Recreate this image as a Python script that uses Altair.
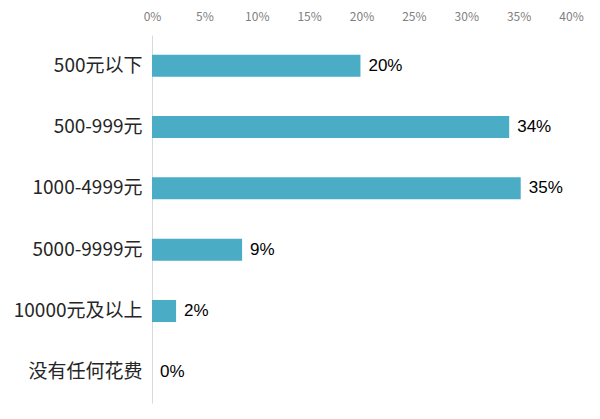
import altair as alt
import pandas as pd

categories = ["500元以下", "500-999元", "1000-4999元", "5000-9999元", "10000元及以上", "没有任何花费"]
shares = [0.199, 0.341, 0.352, 0.086, 0.023, 0.0]
tick_values = [0, 0.05, 0.10, 0.15, 0.20, 0.25, 0.30, 0.35, 0.40]

df = pd.DataFrame({"category": categories, "share": shares})

FONT = "Noto Sans CJK SC"

base = alt.Chart(df)

y_enc = alt.Y(
    "category:N",
    sort=categories,
    title=None,
    scale=alt.Scale(paddingInner=0.64, paddingOuter=0.32),
    axis=alt.Axis(
        domain=True, domainColor="#D9D9D9", domainWidth=1,
        ticks=False, labelFontSize=19, labelColor="#262626",
        labelFont=FONT, labelPadding=10, grid=False,
    ),
)

bars = base.mark_bar(color="#4BACC6").encode(
    x=alt.X(
        "share:Q",
        scale=alt.Scale(domain=[0, 0.4], nice=False),
        title=None,
        axis=alt.Axis(
            orient="top", format=".0%", values=tick_values,
            domain=False, ticks=False, grid=False, labelFlush=False,
            labelFontSize=12, labelColor="#808080", labelFont=FONT,
            labelPadding=12,
        ),
    ),
    y=y_enc,
)

labels = base.mark_text(
    align="left", baseline="middle", dx=8, fontSize=17, color="#000000",
    font="Liberation Sans",
).encode(
    x="share:Q",
    y=alt.Y("category:N", sort=categories),
    text=alt.Text("share:Q", format=".0%"),
)

chart = (
    alt.layer(bars, labels)
    .properties(
        width=419, height=368,
        autosize=alt.AutoSizeParams(type="none"),
        padding={"left": 144, "top": 27, "right": 20, "bottom": 8},
        background="white",
    )
    .configure_view(stroke=None)
)

chart.save("out.html", embed_options={"renderer": "svg", "actions": False})
